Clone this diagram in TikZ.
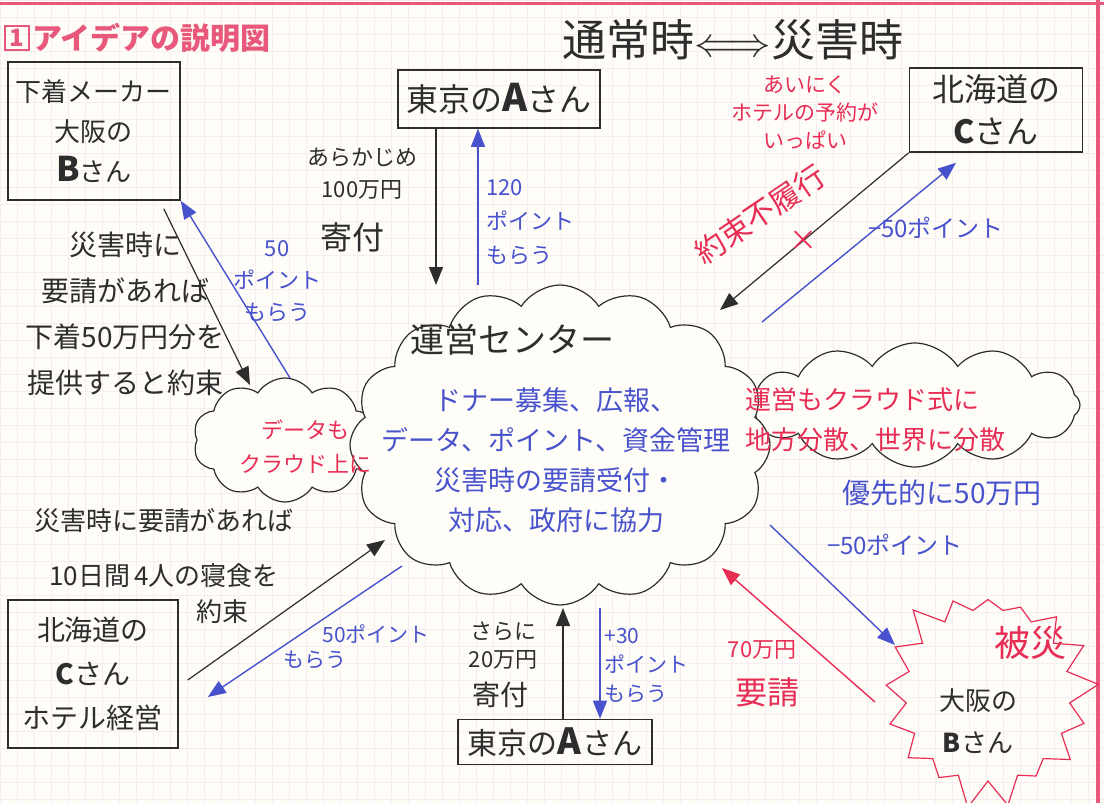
\documentclass[tikz,border=0pt]{standalone}
\usepackage{fontspec}
\setmainfont{Noto Sans CJK JP}
\usetikzlibrary{arrows.meta,positioning,shapes.symbols}
\definecolor{ink}{RGB}{45,45,45}
\definecolor{blueink}{RGB}{72,82,205}
\definecolor{redink}{RGB}{232,45,85}
\definecolor{titlepink}{RGB}{232,88,122}
\definecolor{gridpink}{RGB}{247,236,239}
\definecolor{paper}{RGB}{255,253,247}
\newcommand\tsz[2]{\fontsize{#1}{#2}\selectfont}
\tikzset{
  box/.style={draw=ink,line width=0.8pt,align=center,inner sep=0pt,text=ink},
  puff/.style={cloud,cloud puffs=#1,cloud puff arc=115,draw=ink,line width=0.6pt,fill=paper},
  lbl/.style={align=center,inner sep=0pt,text=ink},
  bl/.style={align=center,inner sep=0pt,text=blueink},
  rd/.style={align=center,inner sep=0pt,text=redink},
  tip/.style={-{Triangle[length=9pt,width=7pt]}},
  blkarrow/.style={tip,draw=ink,line width=0.6pt},
  bluearrow/.style={tip,draw=blueink,line width=0.7pt},
  redarrow/.style={tip,draw=redink,line width=0.7pt}
}
\begin{document}
\begin{tikzpicture}[x=0.5pt,y=-0.5pt]
  \useasboundingbox (0,0) rectangle (1104,803);
  \fill[paper] (0,0) rectangle (1104,803);
  \draw[gridpink,step=8.5pt] (0,0) grid (1104,803);
  \draw[titlepink,line width=1.5pt] (0,3) -- (1104,3);
  \draw[titlepink,line width=2pt] (1098,0) -- (1098,803);

  \node[draw=titlepink,line width=0.8pt,text=titlepink,font=\bfseries\tsz{12}{12},minimum size=12pt,inner sep=0pt] (num) at (17,38) {1};
  \node[right=1pt of num,text=titlepink,font=\bfseries\tsz{15}{15},inner sep=0pt] (title) {アイデアの説明図};
  \node[text=ink,font=\tsz{22}{22}] (mode) at (733,40) {通常時$\Longleftrightarrow$災害時};

  \node[box,minimum width=86pt,minimum height=69pt,font=\tsz{13}{20}] (maker) at (94,131) {下着メーカー\\大阪の\\\textbf{\tsz{17}{20}B}さん};
  \node[box,minimum width=101pt,minimum height=29pt,font=\tsz{16}{16}] (tokyo) at (499,99) {東京の\textbf{\tsz{19}{16}A}さん};
  \node[box,minimum width=86.5pt,minimum height=42pt,font=\tsz{16}{21}] (hokkaido) at (996,110) {北海道の\\\textbf{C}さん};
  \node[box,minimum width=85pt,minimum height=74pt,font=\tsz{14}{22}] (hotel) at (93,674) {北海道の\\\textbf{C}さん\\ホテル経営};
  \node[box,minimum width=97pt,minimum height=22.5pt,font=\tsz{15}{15}] (tokyo2) at (555,742) {東京の\textbf{\tsz{18}{15}A}さん};

  \node[puff=10,minimum width=92pt,minimum height=62pt] (datacloud) at (285,440) {};
  \node[puff=12,minimum width=165pt,minimum height=62pt] (opscloud) at (915,405) {};
  \node[puff=16,minimum width=210pt,minimum height=160pt] (hub) at (560,445) {};
  \node[rd,font=\tsz{11}{17}] (datatxt) at (305,447) {データも\\クラウド上に};
  \node[rd,align=left,font=\tsz{13}{20},anchor=west] (opstxt) at (745,420) {運営もクラウド式に\\地方分散、世界に分散};
  \node[lbl,font=\tsz{17}{17}] (hubname) at (512,340) {運営センター};
  \node[bl,font=\tsz{13.5}{20}] (hubtxt) at (556,460) {ドナー募集、広報、\\データ、ポイント、資金管理\\災害時の要請受付・\\対応、政府に協力};

  \node[starburst,starburst points=17,starburst point height=15pt,random starburst=3,draw=redink,line width=0.6pt,minimum width=112pt,minimum height=116pt] (burst) at (988,695) {};
  \node[rd,font=\tsz{18}{18}] (hisai) at (1030,643) {被災};
  \node[lbl,font=\tsz{13}{21}] (osaka) at (978,721) {大阪の\\\textbf{B}さん};

  \coordinate (p1) at (436,285);
  \coordinate (q1) at (478,285);
  \draw[blkarrow] ([xshift=-31.5pt]tokyo.south) -- (p1);
  \draw[bluearrow] (q1) -- ([xshift=-10.5pt]tokyo.south);
  \node[lbl,font=\tsz{11}{16}] (gift1) at (362,174) {あらかじめ\\100万円};
  \node[lbl,font=\tsz{16}{16}] (gift1b) at (352,237) {寄付};
  \node[bl,align=left,anchor=west,font=\tsz{11}{17}] (pt120) at (486,222) {120\\ポイント\\もらう};

  \coordinate (p2) at (250,385);
  \coordinate (q2) at (290,378);
  \draw[blkarrow] ([xshift=-8.5pt,yshift=-4pt]maker.south east) -- (p2);
  \draw[bluearrow] (q2) -- (maker.south east);
  \node[lbl,font=\tsz{14}{23}] (promise1) at (125,314) {災害時に\\要請があれば\\下着50万円分を\\提供すると約束};
  \node[bl,font=\tsz{11}{16}] (pt50a) at (277,281) {50\\ポイント\\もらう};

  \coordinate (p3) at (720,310);
  \coordinate (q3) at (762,322);
  \draw[blkarrow] (hokkaido.south west) -- (p3);
  \draw[bluearrow] (q3) -- ([xshift=-20pt,yshift=-5pt]hokkaido.south);
  \node[rd,font=\tsz{10.5}{14}] (full) at (805,113) {あいにく\\ホテルの予約が\\いっぱい};
  \node[rd,font=\tsz{15}{15},rotate=34] (broken) at (760,214) {約束不履行};
  \node[rd,font=\tsz{14}{14}] (cross) at (803,241) {×};
  \node[bl,font=\tsz{12}{12}] (minus50a) at (936,228) {−50ポイント};

  \coordinate (p4) at (385,540);
  \coordinate (q4) at (402,566);
  \draw[blkarrow] ([xshift=4.5pt,yshift=-3pt]hotel.east) -- (p4);
  \draw[bluearrow] (q4) -- ([xshift=14.5pt,yshift=-11.5pt]hotel.east);
  \node[lbl,font=\tsz{13}{27.5}] (promise2) at (164,548) {災害時に要請があれば\\10日間\,4人の寝食を};
  \node[lbl,font=\tsz{13}{13}] (promise2b) at (222,612) {約束};
  \node[bl,font=\tsz{10.5}{10.5}] (pt50b) at (376,634) {50ポイント};
  \node[bl,font=\tsz{10.5}{10.5}] (pt50c) at (315,660) {もらう};

  \coordinate (p5) at (563,608);
  \coordinate (q5) at (600,608);
  \draw[blkarrow] ([xshift=4pt]tokyo2.north) -- (p5);
  \draw[bluearrow] (q5) -- ([xshift=22.5pt]tokyo2.north);
  \node[lbl,font=\tsz{11}{14}] (gift2) at (503,646) {さらに\\20万円};
  \node[lbl,font=\tsz{14}{14}] (gift2b) at (500,695) {寄付};
  \node[bl,align=left,anchor=west,font=\tsz{10.5}{14.5}] (pt30) at (604,666) {+30\\ポイント\\もらう};

  \coordinate (p6) at (895,645);
  \coordinate (q6) at (770,525);
  \coordinate (p7) at (722,568);
  \coordinate (q7) at (875,702);
  \draw[bluearrow] (q6) -- (p6);
  \draw[redarrow] (q7) -- (p7);
  \node[bl,font=\tsz{14}{14}] (first) at (942,493) {優先的に50万円};
  \node[bl,font=\tsz{12}{12}] (minus50b) at (895,545) {−50ポイント};
  \node[rd,font=\tsz{11}{11}] (req70) at (762,650) {70万円};
  \node[rd,font=\tsz{16}{16}] (req) at (767,692) {要請};
\end{tikzpicture}
\end{document}
